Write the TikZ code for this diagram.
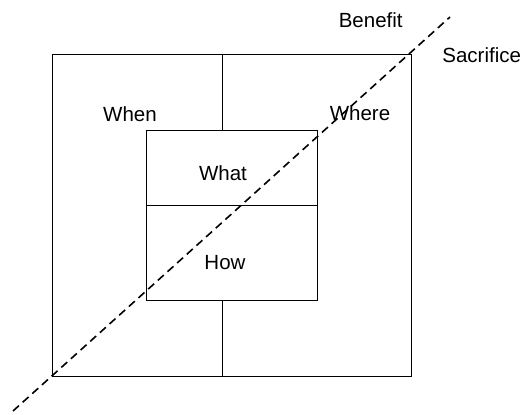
\documentclass[tikz,border=0pt]{standalone}
\usepackage{fontspec}
\setmainfont{Liberation Sans}
\begin{document}
\begin{tikzpicture}[x=1pt,y=-1pt,
  frame/.style={draw=black, line width=0.9pt, fill=none, inner sep=0pt},
  rule/.style={draw=black, line width=0.9pt},
  trend/.style={draw=black, line width=1.6pt, dash pattern=on 8pt off 5pt},
  lbl/.style={inner sep=0pt, font=\fontsize{20.5}{24}\selectfont}]
\useasboundingbox (0,0) rectangle (525,415);
% outer frame and inner box
\node[frame, minimum width=359pt, minimum height=322pt] (outer) at (231.5,215) {};
\node[frame, minimum width=170.6pt, minimum height=170pt] (inner) at (232,215) {};
% dividers
\coordinate (divtop) at (222.3,54);
\coordinate (divbot) at (222.3,376);
\coordinate (midl) at (146.7,205.7);
\coordinate (midr) at (317.3,205.7);
\draw[rule] (divtop) -- (divtop |- inner.north);
\draw[rule] (divbot) -- (divbot |- inner.south);
\draw[rule] (midl) -- (midr);
% diagonal trade-off line
\coordinate (lowend) at (13,411);
\coordinate (highend) at (450,17);
\draw[trend] (lowend) -- (highend);
% labels
\node[lbl] (benefit) at (370.7,20) {Benefit};
\node[lbl] (sacrifice) at (481.7,55) {Sacrifice};
\node[lbl] (when) at (130,114) {When};
\node[lbl] (where) at (360,113) {Where};
\node[lbl] (what) at (223,172.7) {What};
\node[lbl] (how) at (225,262.7) {How};
\end{tikzpicture}
\end{document}
